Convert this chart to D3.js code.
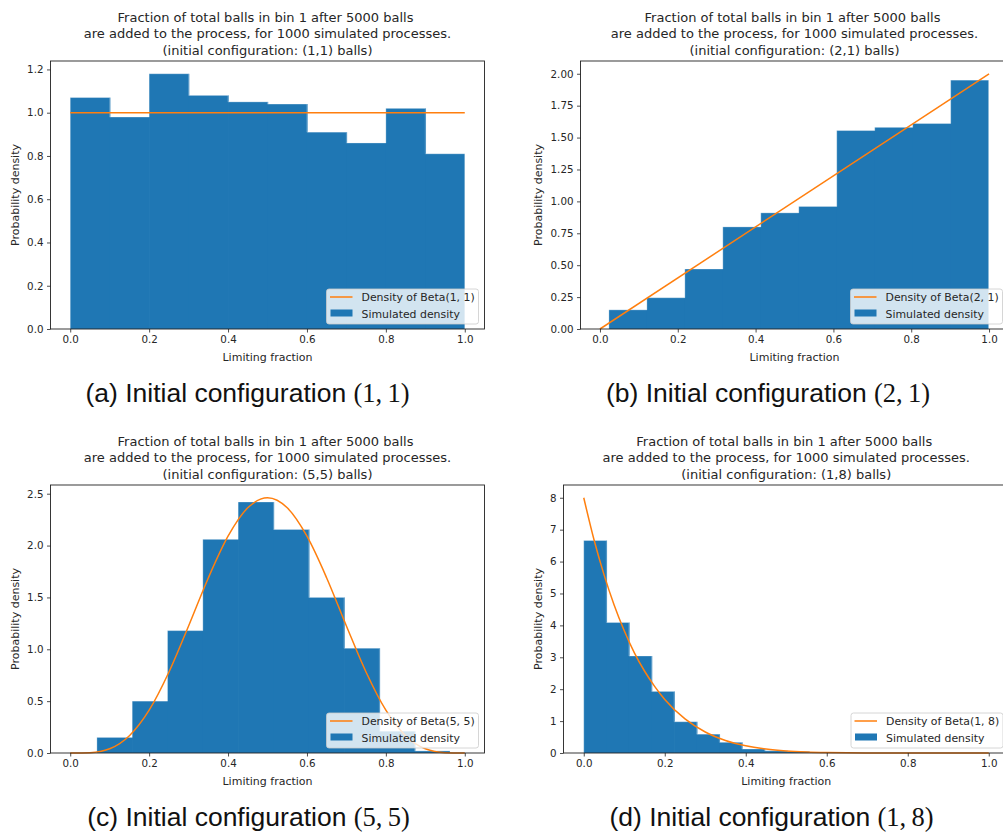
<!DOCTYPE html>
<html>
<head>
<meta charset="utf-8">
<script src="https://cdn.jsdelivr.net/npm/d3@7"></script>
<style>
  html, body { margin: 0; padding: 0; background: #fff; }
  svg { display: block; }
</style>
</head>
<body>
<svg id="fig" width="1003" height="834"></svg>
<script>
// ---- Histogram data (bin edges and normalised heights) ----
const edgesA   = [0.0, 0.1, 0.2, 0.3, 0.4, 0.5, 0.6, 0.7, 0.8, 0.9, 1.0];
const heightsA = [1.07, 0.98, 1.18, 1.08, 1.05, 1.04, 0.91, 0.86, 1.02, 0.81];

const edgesB   = [0.023, 0.1206, 0.2182, 0.3158, 0.4134, 0.511, 0.6086, 0.7062, 0.8038, 0.9014, 0.999];
const heightsB = [0.15, 0.245, 0.47, 0.80, 0.91, 0.96, 1.555, 1.58, 1.61, 1.95];

const edgesC   = [0.0676, 0.1571, 0.2466, 0.3361, 0.4256, 0.5151, 0.6046, 0.6941, 0.7836, 0.8731, 0.9626];
const heightsC = [0.15, 0.50, 1.18, 2.06, 2.42, 2.155, 1.50, 1.01, 0.21, 0.02];

const edgesD   = [0.0, 0.0558, 0.1116, 0.1674, 0.2232, 0.279, 0.3348, 0.3906, 0.4464, 0.5022, 0.558];
const heightsD = [6.66, 4.09, 3.04, 1.93, 0.98, 0.59, 0.335, 0.125, 0.07, 0.05];

// ---- Reference density curves (x, density) ----
const densityXA = [0, 1];
const densityYA = [1, 1];

const densityXB = [0, 1];
const densityYB = [0, 2];

const densityXC = [0, 0.05, 0.1, 0.15, 0.2, 0.25, 0.3, 0.35, 0.4, 0.45, 0.5,
                   0.55, 0.6, 0.65, 0.7, 0.75, 0.8, 0.85, 0.9, 0.95, 1];
const densityYC = [0, 0.003, 0.041, 0.167, 0.413, 0.779, 1.225, 1.688, 2.090, 2.364, 2.461,
                   2.364, 2.090, 1.688, 1.225, 0.779, 0.413, 0.167, 0.041, 0.003, 0];

const densityXD = [0, 0.025, 0.05, 0.075, 0.1, 0.125, 0.15, 0.175, 0.2, 0.25, 0.3, 0.35,
                   0.4, 0.45, 0.5, 0.55, 0.6, 0.65, 0.7, 0.8, 0.9, 1];
const densityYD = [8, 6.70, 5.59, 4.64, 3.83, 3.14, 2.57, 2.09, 1.68, 1.07, 0.659, 0.392,
                   0.224, 0.122, 0.0625, 0.030, 0.013, 0.005, 0.002, 0, 0, 0];

// ---- Tick values ----
const xTicks  = [0.0, 0.2, 0.4, 0.6, 0.8, 1.0];
const yTicksA = [0.0, 0.2, 0.4, 0.6, 0.8, 1.0, 1.2];
const yTicksB = [0.0, 0.25, 0.5, 0.75, 1.0, 1.25, 1.5, 1.75, 2.0];
const yTicksC = [0.0, 0.5, 1.0, 1.5, 2.0, 2.5];
const yTicksD = [0, 1, 2, 3, 4, 5, 6, 7, 8];

// ---- Texts ----
const initialConfigs = ["1,1", "2,1", "5,5", "1,8"];
const betaParams     = ["1, 1", "2, 1", "5, 5", "1, 8"];
const captionLetters = ["a", "b", "c", "d"];
const captionMath    = ["(1,\u20091)", "(2,\u20091)", "(5,\u20095)", "(1,\u20098)"];

const BLUE = "#1f77b4", ORANGE = "#ff7f0e", INK = "#262626";
const SANS = "'DejaVu Sans', sans-serif";

const panels = [
  { edges: edgesA, heights: heightsA, dx: densityXA, dy: densityYA, yTicks: yTicksA, yFmt: ".1f",
    yMax: 1.239, box: { l: 50.5, r: 484.5, t: 61, b: 329 }, ylabX: 15, capX: 247.5, capY: 402 },
  { edges: edgesB, heights: heightsB, dx: densityXB, dy: densityYB, yTicks: yTicksB, yFmt: ".2f",
    yMax: 2.1, box: { l: 580.5, r: 1008.5, t: 61, b: 329 }, ylabX: 538, capX: 768, capY: 402 },
  { edges: edgesC, heights: heightsC, dx: densityXC, dy: densityYC, yTicks: yTicksC, yFmt: ".1f",
    yMax: 2.584, box: { l: 50.5, r: 484.5, t: 485, b: 753 }, ylabX: 15, capX: 248.5, capY: 826 },
  { edges: edgesD, heights: heightsD, dx: densityXD, dy: densityYD, yTicks: yTicksD, yFmt: "d",
    yMax: 8.4, box: { l: 563.5, r: 1009, t: 485, b: 753 }, ylabX: 538, capX: 771.5, capY: 826 }
];

const svg = d3.select("#fig");

panels.forEach((p, i) => {
  const g = svg.append("g");
  const { l, r, t, b } = p.box;
  const x = d3.scaleLinear().domain([-0.05, 1.05]).range([l, r]);
  const y = d3.scaleLinear().domain([0, p.yMax]).range([b, t]);

  // histogram bars (slight overlap avoids anti-aliasing seams between neighbours)
  const bins = p.heights.map((h, k) => ({ x0: p.edges[k], x1: p.edges[k + 1], h, last: k === p.heights.length - 1 }));
  g.append("g").selectAll("rect").data(bins).join("rect")
    .attr("x", d => x(d.x0))
    .attr("width", d => x(d.x1) - x(d.x0) + (d.last ? 0 : 0.7))
    .attr("y", d => y(d.h))
    .attr("height", d => y(0) - y(d.h))
    .attr("fill", BLUE);

  // faint light outline along the histogram's upper edge
  const stepPts = [];
  bins.forEach(d => { stepPts.push([d.x0, d.h]); stepPts.push([d.x1, d.h]); });
  stepPts.push([bins[bins.length - 1].x1, 0]);
  stepPts.unshift([bins[0].x0, 0]);
  g.append("path").datum(stepPts)
    .attr("fill", "none")
    .attr("stroke", "#ffffff").attr("stroke-opacity", 0.35).attr("stroke-width", 0.8)
    .attr("d", d3.line().x(d => x(d[0])).y(d => y(d[1])));

  // theoretical density
  const pts = p.dx.map((v, k) => [v, p.dy[k]]);
  g.append("path").datum(pts)
    .attr("fill", "none")
    .attr("stroke", ORANGE)
    .attr("stroke-width", 1.5)
    .attr("d", d3.line().x(d => x(d[0])).y(d => y(d[1])).curve(d3.curveMonotoneX));

  // spines
  g.append("rect")
    .attr("x", l).attr("y", t).attr("width", r - l).attr("height", b - t)
    .attr("fill", "none").attr("stroke", "#222").attr("stroke-width", 0.9);

  // axes
  const xAxis = d3.axisBottom(x).tickValues(xTicks).tickFormat(d3.format(".1f"))
    .tickSize(3.5).tickPadding(3.5);
  const yAxis = d3.axisLeft(y).tickValues(p.yTicks).tickFormat(d3.format(p.yFmt))
    .tickSize(3.5).tickPadding(3.5);

  const gx = g.append("g").attr("transform", `translate(0,${b})`).call(xAxis);
  const gy = g.append("g").attr("transform", `translate(${l},0)`).call(yAxis);
  [gx, gy].forEach(a => {
    a.select(".domain").remove();
    a.selectAll(".tick line").attr("stroke", "#222").attr("stroke-width", 0.8);
    a.selectAll(".tick text").attr("fill", INK)
      .style("font-family", SANS).style("font-size", "10.3px");
  });

  // axis labels
  g.append("text")
    .attr("x", x(0.5)).attr("y", b + 32)
    .attr("text-anchor", "middle")
    .style("font-family", SANS).style("font-size", "11px")
    .attr("fill", INK)
    .text("Limiting fraction");

  g.append("text")
    .attr("transform", `translate(${p.ylabX},${(t + b) / 2}) rotate(-90)`)
    .attr("text-anchor", "middle").attr("dy", "0.35em")
    .style("font-family", SANS).style("font-size", "11px")
    .attr("fill", INK)
    .text("Probability density");

  // title (three lines)
  const titleLines = [
    "Fraction of total balls in bin 1 after 5000 balls",
    "are added to the process, for 1000 simulated processes.",
    `(initial configuration: (${initialConfigs[i]}) balls)`
  ];
  const cx = (l + r) / 2;
  g.append("g").selectAll("text").data(titleLines).join("text")
    .attr("x", (d, k) => cx + (k === 0 ? -2 : 0))
    .attr("y", (d, k) => t - 39.3 + k * 16.4)
    .attr("text-anchor", "middle")
    .style("font-family", SANS).style("font-size", "13px")
    .attr("fill", INK)
    .text(d => d);

  // legend
  const lw = 152, lh = 35;
  const lx = r - 6 - lw, ly = b - 5 - lh;
  const lg = g.append("g").attr("transform", `translate(${lx},${ly})`);
  lg.append("rect").attr("width", lw).attr("height", lh).attr("rx", 2.5)
    .attr("fill", "#fff").attr("fill-opacity", 0.8)
    .attr("stroke", "#cccccc").attr("stroke-width", 0.8);
  lg.append("line").attr("x1", 3.5).attr("x2", 26).attr("y1", 8).attr("y2", 8)
    .attr("stroke", ORANGE).attr("stroke-width", 1.5);
  lg.append("rect").attr("x", 4).attr("y", 20.5).attr("width", 22).attr("height", 7)
    .attr("fill", BLUE);
  const legTexts = [`Density of Beta(${betaParams[i]})`, "Simulated density"];
  lg.selectAll("text.lt").data(legTexts).join("text").attr("class", "lt")
    .attr("x", 35).attr("y", (d, k) => 12 + k * 16.5)
    .style("font-family", SANS).style("font-size", "10.9px")
    .attr("fill", INK)
    .text(d => d);

  // subfigure caption
  const cap = svg.append("text")
    .attr("x", p.capX).attr("y", p.capY)
    .attr("text-anchor", "middle")
    .attr("fill", "#111");
  cap.append("tspan")
    .style("font-family", "'Liberation Sans', Arial, sans-serif").style("font-size", "26.5px")
    .text(`(${captionLetters[i]}) Initial configuration `);
  cap.append("tspan")
    .style("font-family", "'Liberation Serif', 'DejaVu Serif', serif").style("font-size", "26.5px")
    .text(captionMath[i]);
});
</script>
</body>
</html>
